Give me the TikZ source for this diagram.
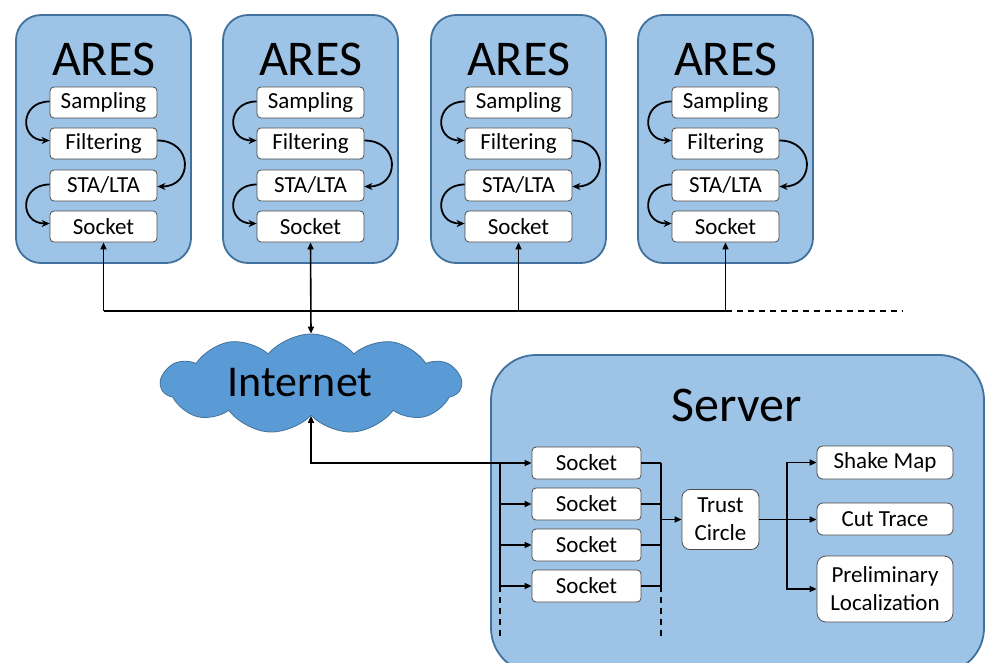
\documentclass[tikz,border=0pt]{standalone}
\usepackage{fontspec}
\setmainfont{Carlito}
\usetikzlibrary{shapes.symbols,arrows.meta}
\definecolor{panel}{HTML}{9DC3E6}
\definecolor{paneledge}{HTML}{41719C}
\definecolor{cloudfill}{HTML}{5B9BD5}
\tikzset{
  panelbox/.style={draw=paneledge, line width=1.8pt, fill=panel, rounded corners=25pt},
  stepbox/.style={draw=black!70, line width=0.8pt, fill=white, rounded corners=4pt,
    minimum width=107pt, minimum height=31pt, inner sep=0pt, font=\fontsize{23}{26}\selectfont},
  outbox/.style={draw=black!70, line width=0.8pt, fill=white, rounded corners=6pt,
    minimum width=136pt, inner sep=0pt, align=center, font=\fontsize{23}{28}\selectfont},
  link/.style={line width=1.6pt},
  arr/.style={line width=1.6pt, -{Triangle[length=7pt,width=6pt]}},
  curvearr/.style={line width=1.8pt, -{Stealth[length=8pt,width=7pt]}},
  dashlink/.style={line width=1.6pt, dash pattern=on 6pt off 5pt},
}
\begin{document}
\begin{tikzpicture}[x=1pt,y=-1pt]
\useasboundingbox (0,0) rectangle (987,663);

% four sensor stations
\foreach \i/\cx in {1/103.5,2/310.5,3/518.5,4/725.5}{
  \draw[panelbox] (\cx-87.5,15) rectangle (\cx+87.5,263);
  \node[font=\fontsize{50}{56}\selectfont] (ares\i) at (\cx,59) {ARES};
  \node[stepbox] (samp\i) at (\cx,102.5) {Sampling};
  \node[stepbox] (filt\i) at (\cx,143.5) {Filtering};
  \node[stepbox] (sta\i)  at (\cx,185.5) {STA/LTA};
  \node[stepbox] (sock\i) at (\cx,226.5) {Socket};
  \draw[curvearr] ([yshift=1pt]samp\i.west) to[out=180,in=180,looseness=2] ([yshift=3pt]filt\i.west);
  \draw[curvearr] ([yshift=3pt]filt\i.east) to[out=0,in=0,looseness=2] ([yshift=-1pt]sta\i.east);
  \draw[curvearr] ([yshift=1pt]sta\i.west) to[out=180,in=180,looseness=2] ([yshift=3pt]sock\i.west);
}

% cloud and its label
\node[cloud, cloud puffs=11, cloud puff arc=100, cloud ignores aspect, draw=paneledge, line width=0.8pt,
  fill=cloudfill, minimum width=300pt, minimum height=100pt] (inet) at (311,384) {};
\node[font=\fontsize{44}{50}\selectfont] (inetlabel) at (300,383) {Internet};

% server
\begin{scope}
  \clip (0,0) rectangle (987,663);
  \draw[panelbox, rounded corners=45pt] (491,355) rectangle (984,673);
\end{scope}
\node[font=\fontsize{50}{56}\selectfont] (srv) at (737,405) {Server};

\foreach \j/\cy in {1/463,2/504,3/545,4/586}{
  \node[stepbox, minimum width=109pt, minimum height=32pt] (ss\j) at (586.5,\cy) {Socket};
}
\node[outbox, minimum width=77pt, minimum height=60pt, rounded corners=8pt] (trust) at (720.5,519.5) {Trust\\Circle};
\node[outbox, minimum height=33pt] (shake) at (885,462.5) {Shake Map};
\node[outbox, minimum height=32pt] (cut) at (885,519) {Cut Trace};
\node[outbox, minimum height=66pt, rounded corners=9pt] (prelim) at (885,589) {Preliminary\\Localization};

% bus between the stations
\coordinate (busL) at (103.5,311);
\coordinate (busR) at (725.5,311);
\coordinate (busEnd) at (903,311);
\draw[link] (busL) -- (busR);
\draw[dashlink] (busR) -- (busEnd);
\draw[arr] (busL) -- (sock1.south);
\draw[arr] (sock3.south |- busL) -- (sock3.south);
\draw[arr] (busR) -- (sock4.south);
\draw[line width=1.6pt, {Triangle[length=7pt,width=6pt]}-{Triangle[length=7pt,width=6pt]}]
  (sock2.south) -- (inet.north);

% internet to server sockets
\coordinate (fanL) at (500,463);
\coordinate (fanLend) at (500,586);
\coordinate (fanLdash) at (500,636);
\draw[arr] (fanL) -| (inet.south);
\draw[link] (fanL) -- (fanLend);
\draw[dashlink] (fanLend) -- (fanLdash);
\foreach \j in {1,2,3,4}{
  \draw[arr] (fanL |- ss\j.west) -- (ss\j.west);
}

% server sockets to trust circle
\coordinate (fanR) at (661,463);
\coordinate (fanRend) at (661,586);
\coordinate (fanRdash) at (661,636);
\draw[link] (fanR) -- (fanRend);
\draw[dashlink] (fanRend) -- (fanRdash);
\foreach \j in {1,2,3,4}{
  \draw[link] (ss\j.east) -- (fanR |- ss\j.east);
}
\draw[arr] (fanR |- trust.west) -- (trust.west);

% trust circle to outputs
\coordinate (split) at (787,519.5);
\draw[link] (trust.east) -- (split);
\draw[arr] (split) |- (shake.west);
\draw[arr] (split) -- (split -| cut.west);
\draw[arr] (split) |- (prelim.west);
\end{tikzpicture}
\end{document}
